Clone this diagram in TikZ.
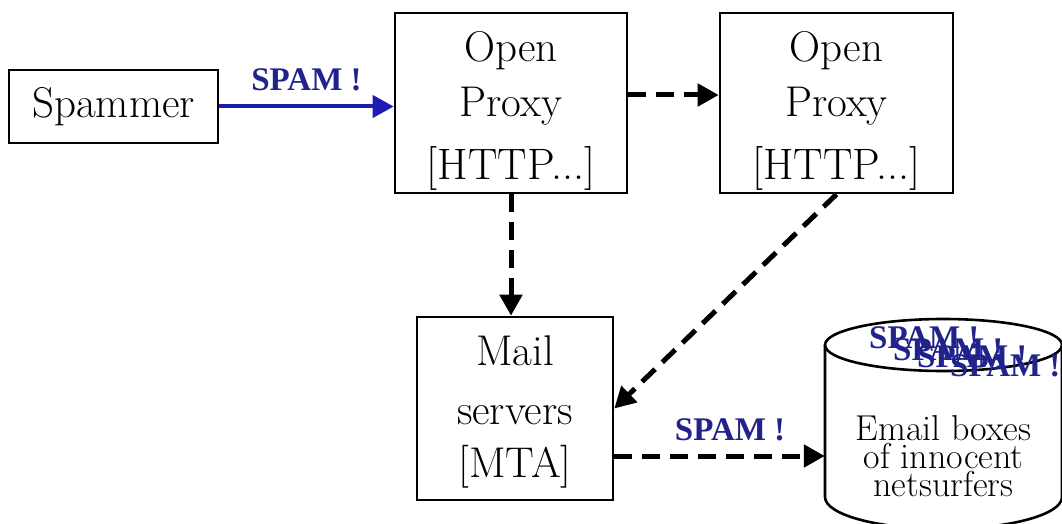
\documentclass[tikz,border=0pt]{standalone}
\usepackage{fontspec}
\newfontfamily\spamfont{Liberation Serif}
\usetikzlibrary{arrows.meta}
\definecolor{spamink}{RGB}{34,34,140}
\definecolor{spamline}{RGB}{28,28,180}
\newcommand{\bigline}[1]{{\fontsize{44}{55}\selectfont #1}}
\tikzset{
  box/.style={draw=black, line width=2.6pt, fill=white, inner sep=0pt},
  boxtext/.style={inner sep=0pt, align=center, font=\fontsize{43}{55}\selectfont},
  inboxtext/.style={inner sep=0pt, align=center, font=\fontsize{36}{28}\selectfont},
  spamlabel/.style={text=spamink, inner sep=0pt,
    font=\spamfont\bfseries\fontsize{33}{33}\selectfont},
  tip/.style={-{Triangle[length=21pt,width=22pt]}},
  flow/.style={tip, line width=5pt, dash pattern=on 18pt off 10pt},
  sendline/.style={tip, draw=spamline, line width=4pt},
  outline/.style={line width=2.6pt, line join=round},
}
\begin{document}
\begin{tikzpicture}[x=1pt,y=-1pt]
\useasboundingbox (0,0) rectangle (1062,524);

% boxes
\node[box, boxtext, minimum width=209pt, minimum height=73pt] (spammer) at (113.5,106.5) {Spammer};
\node[box, minimum width=232pt, minimum height=180pt] (proxyA) at (511,103) {};
\node[boxtext] (proxyAtext) at (511,111) {Open\\Proxy\\[8pt]\bigline{[HTTP...]}};
\node[box, minimum width=233pt, minimum height=180pt] (proxyB) at (836.5,103) {};
\node[boxtext] (proxyBtext) at (836.5,111) {Open\\Proxy\\[8pt]\bigline{[HTTP...]}};
\node[box, minimum width=196pt, minimum height=183pt] (mail) at (515,408.5) {};
\node[boxtext] (mailtext) at (515,412) {Mail\\[4pt]servers\\[-2pt]{[MTA]}};

% mailbox cylinder
\begin{scope}
  \clip (0,0) rectangle (1062,524);
  \draw[outline, fill=white] (825,345) -- (825,497)
    arc[start angle=180, end angle=0, x radius=118.5, y radius=32] -- (1062,345);
  \draw[outline] (943.5,345) ellipse[x radius=118.5, y radius=26];
\end{scope}
\node[inboxtext, minimum width=237pt] (inbox) at (943.5,456) {Email boxes\\of innocent\\netsurfers};

% piled-up spam on top of the mailboxes
\node[spamlabel, anchor=base west] (s1) at (869,348) {SPAM !};
\node[spamlabel, anchor=base west] (s2) at (893,360) {SPAM !};
\node[spamlabel, anchor=base west] (s3) at (917,367) {SPAM !};
\node[spamlabel, anchor=base west] (s4) at (950,376) {SPAM !};

% connectors
\draw[sendline] (spammer.east) -- node[spamlabel, above=14pt] (sendlabel) {SPAM !} (spammer.east -| proxyA.west);
\draw[flow] ([yshift=8pt]proxyA.east) -- ([yshift=8pt]proxyB.west);
\draw[flow] (proxyA.south) -- (proxyA.south |- mail.north);
\draw[flow] (proxyB.south) -- (mail.east);
\draw[flow] (inbox.west -| mail.east) -- node[spamlabel, pos=0.55, above=13pt] (deliverlabel) {SPAM !} (inbox.west);
\end{tikzpicture}
\end{document}
